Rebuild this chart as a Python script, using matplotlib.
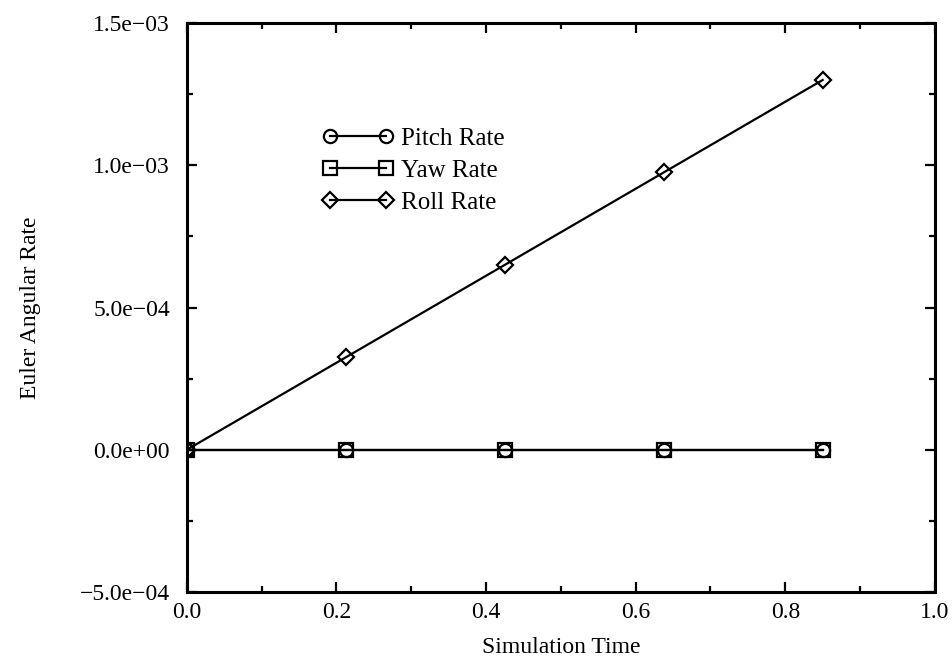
import matplotlib
matplotlib.use("Agg")
import matplotlib.pyplot as plt
from matplotlib.ticker import MultipleLocator, FixedLocator

# Simulation samples
time = [0.0, 0.2125, 0.425, 0.6375, 0.85]
pitch_rate = [0.0, 0.0, 0.0, 0.0, 0.0]
yaw_rate = [0.0, 0.0, 0.0, 0.0, 0.0]
roll_rate = [0.0, 3.25e-4, 6.5e-4, 9.75e-4, 1.3e-3]

x_ticks = [0.0, 0.2, 0.4, 0.6, 0.8, 1.0]
x_tick_labels = ["0.0", "0.2", "0.4", "0.6", "0.8", "1.0"]
y_ticks = [-5e-4, 0.0, 5e-4, 1e-3, 1.5e-3]
y_tick_labels = ["\u22125.0e\u221204", "0.0e+00", "5.0e\u221204", "1.0e\u221203", "1.5e\u221203"]

plt.rcParams["font.family"] = ["Liberation Serif", "DejaVu Serif"]

fig = plt.figure(figsize=(9.53, 6.6), dpi=100)
ax = fig.add_axes([0.196, 0.103, 0.785, 0.862])

common = dict(color="black", linewidth=1.6, markerfacecolor="none",
              markeredgecolor="black", markeredgewidth=1.6)
ax.plot(time, pitch_rate, marker="o", markersize=9.5, label="Pitch Rate", **common)
ax.plot(time, yaw_rate, marker="s", markersize=9.5, label="Yaw Rate", **common)
ax.plot(time, roll_rate, marker="D", markersize=8.5, label="Roll Rate", **common)

ax.set_xlim(0.0, 1.0)
ax.set_ylim(-5e-4, 1.5e-3)
ax.xaxis.set_major_locator(FixedLocator(x_ticks))
ax.set_xticklabels(x_tick_labels)
ax.yaxis.set_major_locator(FixedLocator(y_ticks))
ax.set_yticklabels(y_tick_labels)
ax.xaxis.set_minor_locator(MultipleLocator(0.1))
ax.yaxis.set_minor_locator(MultipleLocator(2.5e-4))

ax.tick_params(which="both", direction="in", top=True, right=True,
               labelsize=17, width=1.6)
ax.tick_params(axis="y", pad=12)
ax.tick_params(axis="x", pad=7)
ax.tick_params(which="major", length=7)
ax.tick_params(which="minor", length=4)
for sp in ax.spines.values():
    sp.set_linewidth(2.2)

ax.set_xlabel("Simulation Time", fontsize=17, labelpad=10)
ax.set_ylabel("Euler Angular Rate", fontsize=17, labelpad=28)

leg = ax.legend(loc="upper left", bbox_to_anchor=(0.151, 0.856), numpoints=2,
                frameon=False, fontsize=18, handlelength=2.85, handletextpad=0.3,
                labelspacing=0.38)

fig.savefig("out.png", dpi=100)
